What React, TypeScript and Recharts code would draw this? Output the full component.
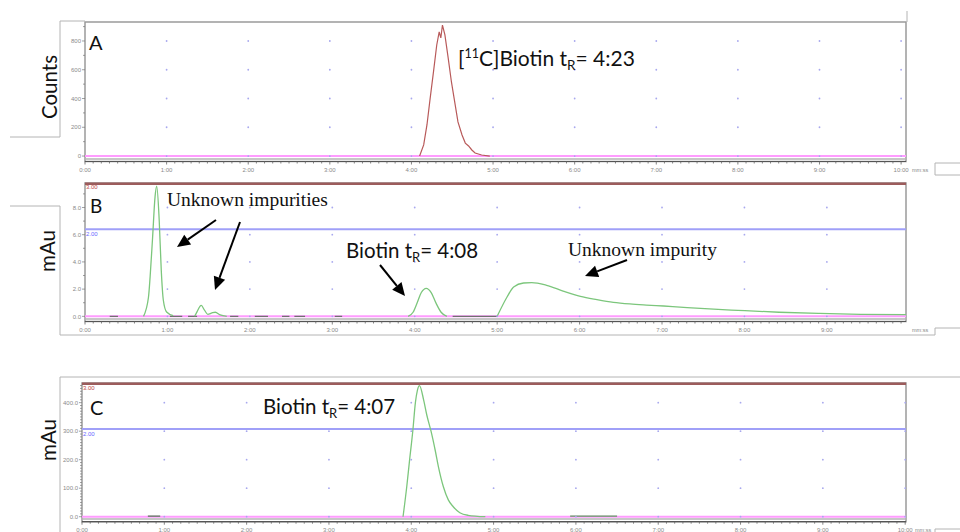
import React from 'react';
import { LineChart, Line, XAxis, YAxis, ReferenceLine, ReferenceDot, ReferenceArea } from 'recharts';

// time axis (minutes) and its labels
const xMajor = [0, 1, 2, 3, 4, 5, 6, 7, 8, 9, 10];
const xLabels = ['0:00', '1:00', '2:00', '3:00', '4:00', '5:00', '6:00', '7:00', '8:00', '9:00', '10:00'];

// A: radio trace, [11C]Biotin
const aTime = [4.1, 4.15, 4.19, 4.23, 4.27, 4.31, 4.34, 4.36, 4.38, 4.41, 4.45, 4.49, 4.53, 4.57, 4.62, 4.66, 4.7, 4.74, 4.78, 4.86, 4.96];
const aCounts = [0, 77, 216, 404, 585, 772, 863, 821, 911, 842, 682, 515, 376, 237, 146, 90, 70, 42, 21, 7, 0];
const aYTicks = [0, 200, 400, 600, 800];

// B: UV trace of the crude mixture
const bImpTime = [0.71, 0.77, 0.79, 0.82, 0.85, 0.87, 0.9, 0.925, 0.95, 0.99, 1.07];
const bImpMau = [0, 1.4, 2.9, 5.8, 8.8, 9.56, 7.1, 3.4, 1.2, 0.32, 0.05];
const bSmallTime = [1.33, 1.36, 1.41, 1.45, 1.49, 1.54, 1.58, 1.64, 1.72];
const bSmallMau = [0, 0.35, 0.8, 0.45, 0.15, 0.25, 0.3, 0.1, 0];
const bBiotinTime = [3.92, 3.98, 4.03, 4.08, 4.14, 4.2, 4.26, 4.32, 4.39];
const bBiotinMau = [0, 0.3, 1.0, 1.75, 2.06, 1.75, 0.95, 0.3, 0];
const bLateTime = [5.0, 5.12, 5.2, 5.32, 5.42, 5.6, 5.8, 6.01, 6.21, 6.41, 6.61, 6.81, 7.02, 7.13, 7.52, 7.92, 8.42, 8.91, 9.41, 9.96];
const bLateMau = [0, 1.42, 2.16, 2.45, 2.48, 2.28, 1.86, 1.47, 1.23, 1.03, 0.91, 0.83, 0.76, 0.72, 0.56, 0.44, 0.3, 0.21, 0.15, 0.13];
const bBaseSegments = [[0.3, 0.4], [1.03, 1.18], [1.25, 1.36], [1.76, 1.86], [2.06, 2.22], [2.39, 2.48], [2.54, 2.67], [3.03, 3.12], [4.46, 5.0]];
const bYTicks = [0, 2, 4, 6, 8];

// C: UV trace of the purified product
const cTime = [3.9, 3.945, 3.98, 4.02, 4.05, 4.075, 4.1, 4.15, 4.19, 4.24, 4.29, 4.33, 4.39, 4.45, 4.51, 4.59, 4.69, 4.9];
const cMau = [0, 105, 200, 305, 400, 444, 460, 410, 355, 300, 234, 175, 105, 59, 35, 14, 5, 0];
const cLateTime = [5.93, 6.5];
const cLateMau = [2, 2];
const cBaseSegments = [[0.8, 0.95]];
const cYTicks = [0, 100, 200, 300, 400];

const pts = (t: number[], v: number[]) => t.map((x, i) => ({ t: x, v: v[i] }));
const segPts = (segs: number[][], level: number) =>
  segs.flatMap(([a, b]) => [{ t: a, v: level }, { t: b, v: level }, { t: b, v: null as number | null }]);
const steps = (max: number, step: number) => {
  const out: number[] = [];
  for (let i = 0; i * step <= max + 1e-9; i++) out.push(Math.round(i * step * 1000) / 1000);
  return out;
};

const SANS = 'Lato, "Open Sans", sans-serif';
const SERIF = '"Liberation Serif", "Times New Roman", serif';
const TINY = '"Liberation Sans", Arial, sans-serif';

function XTick({ x, y, payload }: any) {
  const v = payload.value;
  const major = Math.abs(v - Math.round(v)) < 1e-6;
  return (
    <g>
      <line x1={x} x2={x} y1={y} y2={y + (major ? 3 : 2)} stroke="#666" strokeWidth={0.8} />
      {major && (
        <text x={x} y={y + 10} textAnchor="middle" fontSize={6} fill="#8a8a8a" fontFamily={TINY}>
          {xLabels[Math.round(v)]}
        </text>
      )}
    </g>
  );
}

function YTick({ x, y, payload, majors, fmt }: any) {
  const v = payload.value;
  const major = majors.some((m: number) => Math.abs(m - v) < 1e-6);
  return (
    <g>
      <line x1={x - (major ? 3 : 2)} x2={x} y1={y} y2={y} stroke="#777" strokeWidth={0.7} />
      {major && (
        <text x={x - 4} y={y + 2.2} textAnchor="end" fontSize={6} fill="#8a8a8a" fontFamily={TINY}>
          {fmt(v)}
        </text>
      )}
    </g>
  );
}

interface PanelCfg {
  top: number;
  height: number;
  left: number;
  marginTop: number;
  axisH: number;
  marginBottom: number;
  xMax: number;
  yDomain: [number, number];
  yTicks: number[];
  yMinorStep: number;
  yFmt: (v: number) => string;
  shadowY: number;
  extra: React.ReactNode[];
  series: React.ReactNode[];
}

function Panel({ cfg }: { cfg: PanelCfg }) {
  const xTicks = steps(cfg.xMax, 0.1);
  const yTicks = steps(cfg.yDomain[1], cfg.yMinorStep);
  const dots: React.ReactNode[] = [];
  xMajor.filter(m => m > 0 && m <= cfg.xMax).forEach(xm =>
    cfg.yTicks.forEach(ym =>
      dots.push(<ReferenceDot key={`d${xm}-${ym}`} x={xm} y={ym} r={0.9} fill="#a8a8ee" stroke="none" />)
    )
  );
  return (
    <div style={{ position: 'absolute', left: 0, top: cfg.top }}>
      <LineChart width={960} height={cfg.height} margin={{ top: cfg.marginTop, right: 54, bottom: cfg.marginBottom, left: 0 }}>
        <XAxis
          type="number"
          dataKey="t"
          domain={[0, cfg.xMax]}
          allowDataOverflow
          ticks={xTicks}
          interval={0}
          tickSize={0}
          tickMargin={0}
          tickLine={false}
          height={cfg.axisH}
          axisLine={{ stroke: '#555', strokeWidth: 1.2 }}
          tick={(p: any) => <XTick {...p} />}
        />
        <YAxis
          type="number"
          domain={cfg.yDomain}
          allowDataOverflow
          ticks={yTicks}
          interval={0}
          width={cfg.left}
          tickSize={0}
          tickMargin={0}
          tickLine={false}
          axisLine={false}
          tick={(p: any) => <YTick {...p} majors={cfg.yTicks} fmt={cfg.yFmt} />}
        />
        <ReferenceArea x1={0} x2={cfg.xMax} y1={cfg.yDomain[0]} y2={cfg.yDomain[1]} fill="none" stroke="#9a9a9a" strokeWidth={1.5} />
        {dots}
        <ReferenceLine y={cfg.shadowY} stroke="#b4b4b4" strokeWidth={1.5} />
        <ReferenceLine y={0} stroke="#ff9cff" strokeWidth={2} />
        {cfg.extra}
        {cfg.series}
      </LineChart>
    </div>
  );
}

function Arrow({ x1, y1, x2, y2 }: { x1: number; y1: number; x2: number; y2: number }) {
  const a = Math.atan2(y2 - y1, x2 - x1);
  const L = 13;
  const W = 6;
  const bx = x2 - L * Math.cos(a);
  const by = y2 - L * Math.sin(a);
  const px = -Math.sin(a) * W;
  const py = Math.cos(a) * W;
  return (
    <g>
      <line x1={x1} y1={y1} x2={bx} y2={by} stroke="#000" strokeWidth={2} />
      <polygon points={`${x2},${y2} ${bx + px},${by + py} ${bx - px},${by - py}`} fill="#000" />
    </g>
  );
}

const green = '#7cc67c';
const baseGray = '#707070';

export default function App() {
  const panelA: PanelCfg = {
    top: 0, height: 180, left: 85, marginTop: 22, axisH: 14, marginBottom: 4.5,
    xMax: 10.06, yDomain: [-38, 932], yTicks: aYTicks, yMinorStep: 100, yFmt: v => String(v), shadowY: -21,
    extra: [],
    series: [
      <Line key="a" data={pts(aTime, aCounts)} dataKey="v" type="linear" stroke="#b85a5a" strokeWidth={1.2} dot={false} isAnimationActive={false} />,
    ],
  };
  const panelB: PanelCfg = {
    top: 170, height: 170, left: 85, marginTop: 13, axisH: 14, marginBottom: 4.5,
    xMax: 9.96, yDomain: [-0.38, 9.8], yTicks: bYTicks, yMinorStep: 1, yFmt: v => v.toFixed(1), shadowY: -0.2,
    extra: [
      <ReferenceLine key="blue" y={6.4} stroke="#a0a0f8" strokeWidth={2} />,
      <ReferenceLine key="red" y={9.75} stroke="#9c5c5c" strokeWidth={2.5} />,
    ],
    series: [
      <Line key="b0" data={segPts(bBaseSegments, 0)} dataKey="v" stroke={baseGray} strokeWidth={1.3} dot={false} connectNulls={false} isAnimationActive={false} />,
      <Line key="b1" data={pts(bImpTime, bImpMau)} dataKey="v" type="monotone" stroke={green} strokeWidth={1.3} dot={false} isAnimationActive={false} />,
      <Line key="b2" data={pts(bSmallTime, bSmallMau)} dataKey="v" type="monotone" stroke={green} strokeWidth={1.3} dot={false} isAnimationActive={false} />,
      <Line key="b3" data={pts(bBiotinTime, bBiotinMau)} dataKey="v" type="monotone" stroke={green} strokeWidth={1.3} dot={false} isAnimationActive={false} />,
      <Line key="b4" data={pts(bLateTime, bLateMau)} dataKey="v" type="monotone" stroke={green} strokeWidth={1.3} dot={false} isAnimationActive={false} />,
    ],
  };
  const panelC: PanelCfg = {
    top: 370, height: 162, left: 82, marginTop: 13, axisH: 10, marginBottom: 0.3,
    xMax: 10.01, yDomain: [-17.5, 469], yTicks: cYTicks, yMinorStep: 10, yFmt: v => v.toFixed(1), shadowY: -8,
    extra: [
      <ReferenceLine key="blue" y={308} stroke="#a0a0f8" strokeWidth={2} />,
      <ReferenceLine key="red" y={466} stroke="#9c5c5c" strokeWidth={2.5} />,
    ],
    series: [
      <Line key="c0" data={segPts(cBaseSegments, 2)} dataKey="v" stroke="#557755" strokeWidth={1.3} dot={false} connectNulls={false} isAnimationActive={false} />,
      <Line key="c1" data={pts(cTime, cMau)} dataKey="v" type="monotone" stroke={green} strokeWidth={1.3} dot={false} isAnimationActive={false} />,
      <Line key="c2" data={pts(cLateTime, cLateMau)} dataKey="v" stroke="#5f9a5f" strokeWidth={1.3} dot={false} isAnimationActive={false} />,
    ],
  };

  const frame = '#b4b4b4';
  return (
    <div style={{ position: 'absolute', left: 0, top: 0, width: 960, height: 532, background: '#fff', overflow: 'hidden' }}>
      <Panel cfg={panelA} />
      <Panel cfg={panelB} />
      <Panel cfg={panelC} />
      <svg width={960} height={532} style={{ position: 'absolute', left: 0, top: 0, pointerEvents: 'none' }}>
        {/* leftover frames of the pasted panels */}
        <g stroke={frame} strokeWidth={1} fill="none">
          <polyline points="10,137 60,137 60,21 85,21" />
          <line x1={907} y1={11} x2={907} y2={22} />
          <polyline points="960,163 935,163 935,175 960,175" />
          <polyline points="10,206 60,206 60,335 935,335 935,328 960,328" />
          <polyline points="60,532 60,377 960,377" />
          <polyline points="960,529 935,529 935,532" />
        </g>

        {/* axis titles */}
        <text x={57} y={87} transform="rotate(-90 57 87)" textAnchor="middle" fontSize={20.5} fontFamily={SANS} fill="#111">Counts</text>
        <text x={55} y={251} transform="rotate(-90 55 251)" textAnchor="middle" fontSize={20.5} fontFamily={SANS} fill="#111">mAu</text>
        <text x={56} y={440} transform="rotate(-90 56 440)" textAnchor="middle" fontSize={20.5} fontFamily={SANS} fill="#111">mAu</text>

        {/* panel letters */}
        <text x={89} y={50} fontSize={20} fontFamily={SANS} fill="#111">A</text>
        <text x={90} y={213} fontSize={19} fontFamily={SANS} fill="#111">B</text>
        <text x={90} y={415} fontSize={20} fontFamily={SANS} fill="#111">C</text>

        {/* unit tags */}
        <g fontSize={5.5} fontFamily={TINY} fill="#8a8a8a">
          <text x={912} y={171.5}>mm:ss</text>
          <text x={912} y={331.5}>mm:ss</text>
          <text x={915} y={531.5}>mm:ss</text>
        </g>
        <g fontSize={6} fontFamily={TINY}>
          <text x={86} y={189} fill="#c04848">3.00</text>
          <text x={86} y={236} fill="#6868ff">2.00</text>
          <text x={83} y={390} fill="#c04848">3.00</text>
          <text x={83} y={436} fill="#6868ff">2.00</text>
        </g>

        {/* annotations */}
        <text x={458} y={66} fontSize={21} fontFamily={SANS} fill="#111">
          <tspan>[</tspan>
          <tspan fontSize={12.5} dy={-8}>11</tspan>
          <tspan dy={8}>C]Biotin t</tspan>
          <tspan fontSize={13.5} dy={4}>R</tspan>
          <tspan dy={-4}>= 4:23</tspan>
        </text>
        <text x={346} y={258} fontSize={20.5} fontFamily={SANS} fill="#111">
          <tspan>Biotin t</tspan>
          <tspan fontSize={13} dy={4}>R</tspan>
          <tspan dy={-4}>= 4:08</tspan>
        </text>
        <text x={263} y={414} fontSize={20.5} fontFamily={SANS} fill="#111">
          <tspan>Biotin t</tspan>
          <tspan fontSize={13} dy={4}>R</tspan>
          <tspan dy={-4}>= 4:07</tspan>
        </text>
        <text x={167} y={206} fontSize={19.5} fontFamily={SERIF} fill="#111">Unknown impurities</text>
        <text x={568} y={256} fontSize={19.5} fontFamily={SERIF} fill="#111">Unknown impurity</text>
        <Arrow x1={216} y1={220} x2={177} y2={247} />
        <Arrow x1={240} y1={222} x2={215} y2={290} />
        <Arrow x1={380} y1={265} x2={405} y2={296} />
        <Arrow x1={627} y1={260} x2={585} y2={276} />
      </svg>
    </div>
  );
}
